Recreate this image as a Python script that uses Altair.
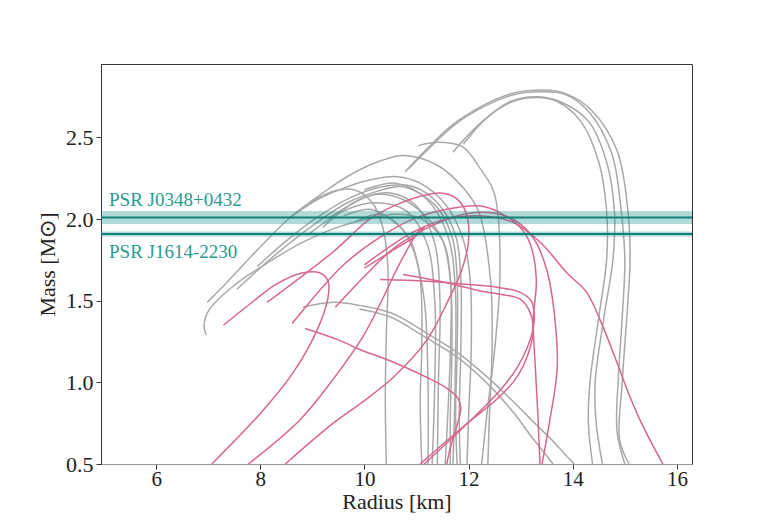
import altair as alt
import pandas as pd

# ---------------- data (Radius [km], Mass [Msun]) ----------------
gray_S1 = [(15.08,0.5),(14.9,0.65),(14.95,1.0),(15.06,1.5),(15.1,1.75),(15.06,2.05),(14.85,2.42),(14.35,2.67),(13.85,2.77),(13.43,2.79),(12.9,2.775),(12.3,2.70),(11.7,2.58),(11.2,2.43),(10.78,2.29)]
gray_S2 = [(15.0,0.5),(14.85,0.7),(14.87,1.0),(14.95,1.4),(15.0,1.75),(14.93,2.05),(14.75,2.4),(14.3,2.66),(13.85,2.765),(13.4,2.78),(12.9,2.765),(12.3,2.69),(11.7,2.57),(11.2,2.42),(10.85,2.31)]
gray_S3 = [(14.38,0.5),(14.3,0.75),(14.33,1.0),(14.5,1.4),(14.65,1.75),(14.65,2.05),(14.5,2.35),(14.15,2.6),(13.7,2.72),(13.3,2.745),(12.85,2.72),(12.35,2.62),(11.9,2.46)]
gray_S4 = [(14.57,0.5),(14.45,0.75),(14.43,1.0),(14.6,1.4),(14.77,1.75),(14.8,2.05),(14.65,2.35),(14.3,2.6),(13.75,2.72),(13.3,2.75),(12.8,2.72),(12.2,2.58),(11.7,2.41)]
gray_Gm = [(12.25,0.5),(12.35,0.8),(12.5,1.2),(12.6,1.63),(12.56,2.04),(12.47,2.18),(12.2,2.32),(11.9,2.44),(11.45,2.47),(11.03,2.45)]
gray_C1 = [(6.98,1.49),(7.23,1.57),(7.94,1.81),(8.57,2.01),(9.2,2.16),(9.72,2.27),(10.25,2.35),(10.75,2.39),(11.4,2.33),(11.9,2.19),(12.2,2.04),(12.42,1.63),(12.45,1.2),(12.4,0.8),(12.37,0.5)]
gray_C2 = [(6.96,1.29),(6.92,1.34),(6.99,1.43),(7.48,1.59),(8.13,1.73),(8.76,1.85),(9.4,1.94),(10.05,2.0),(10.6,2.03),(11.1,2.0),(11.5,1.87),(11.65,1.63),(11.65,1.2),(11.6,0.8),(11.55,0.5)]
gray_C3 = [(7.94,1.71),(8.51,1.87),(9.09,2.01),(9.72,2.13),(10.36,2.2),(10.93,2.2),(11.4,2.1),(11.75,1.9),(11.85,1.63),(11.85,1.2),(11.82,0.8),(11.84,0.5)]
gray_C4 = [(8.57,2.01),(9.1,2.12),(9.6,2.19),(10.1,2.24),(10.63,2.26),(11.07,2.22),(11.58,2.08),(11.9,1.87),(12.03,1.63),(12.05,1.2),(12.0,0.8),(11.97,0.5)]
gray_C5 = [(8.96,2.1),(9.4,2.17),(9.8,2.18),(10.15,2.1),(10.35,1.95),(10.45,1.7),(10.42,1.3),(10.4,0.9),(10.42,0.5)]
gray_C6 = [(9.34,2.01),(9.8,2.1),(10.2,2.15),(10.74,2.12),(11.2,2.01),(11.5,1.87),(11.65,1.63),(11.68,1.2),(11.65,0.8),(11.65,0.5)]
gray_C7 = [(9.6,2.02),(10.1,2.06),(10.5,2.0),(10.88,1.87),(11.07,1.63),(11.1,1.2),(11.07,0.9),(11.1,0.5)]
gray_C8 = [(7.55,1.57),(8.32,1.79),(9.09,1.98),(9.67,2.1),(10.24,2.17),(10.7,2.2),(11.1,2.15),(11.45,2.05),(11.7,1.87),(11.78,1.63),(11.78,1.2),(11.75,0.8),(11.78,0.5)]
gray_C9 = [(9.8,1.98),(10.3,2.03),(10.7,1.95),(10.95,1.8),(11.15,1.5),(11.22,1.0),(11.22,0.5)]
gray_C10 = [(8.9,1.9),(9.6,2.05),(10.2,2.1),(10.8,2.05),(11.2,1.85),(11.35,1.5),(11.35,1.0),(11.3,0.5)]
gray_C11 = [(9.2,1.95),(9.9,2.12),(10.5,2.16),(11.0,2.08),(11.35,1.85),(11.45,1.5),(11.42,1.0),(11.4,0.5)]
gray_C12 = [(10.0,2.18),(10.6,2.22),(11.2,2.12),(11.6,1.9),(11.74,1.6),(11.74,1.0),(11.7,0.5)]
gray_D1 = [(8.82,1.46),(9.4,1.49),(9.92,1.47),(10.55,1.42),(11.2,1.3),(11.84,1.17),(12.47,1.0),(12.99,0.84),(13.3,0.74),(13.62,0.64),(13.85,0.56),(14.03,0.5)]
gray_D2 = [(9.9,1.45),(10.5,1.4),(11.15,1.28),(11.8,1.15),(12.4,0.98),(12.9,0.8),(13.2,0.67),(13.45,0.57),(13.62,0.5)]

pink_K1 = [(7.07,0.5),(8.0,0.81),(8.63,1.06),(9.09,1.32),(9.3,1.52),(9.3,1.62),(9.15,1.67),(8.8,1.67),(8.3,1.6),(7.8,1.48),(7.29,1.35)]
pink_K2 = [(7.77,0.5),(8.76,0.77),(9.4,1.02),(9.97,1.28),(10.36,1.52),(10.6,1.68),(10.85,1.83),(11.05,1.93),(11.15,1.95),(11.0,1.9),(10.5,1.8),(10.0,1.7)]
pink_K3 = [(8.48,0.5),(9.4,0.75),(9.92,0.87),(10.55,1.03),(11.2,1.26),(11.59,1.49),(11.87,1.69),(12.0,1.87),(11.95,2.04),(11.75,2.13),(11.45,2.16),(11.07,2.14),(10.63,2.09),(10.1,2.0),(9.4,1.8),(8.13,1.49)]
pink_K4 = [(8.86,1.33),(9.5,1.26),(9.92,1.2),(10.43,1.14),(11.2,1.03),(11.6,0.96),(11.8,0.9),(11.85,0.84),(11.78,0.74),(11.65,0.6),(11.58,0.5)]
pink_H1 = [(11.07,0.5),(11.9,0.73),(12.55,0.9),(12.9,1.02),(13.15,1.18),(13.24,1.34),(13.18,1.43),(12.99,1.51),(12.6,1.54),(12.22,1.56),(11.58,1.61),(10.74,1.66)]
pink_H2 = [(11.15,0.5),(11.95,0.74),(12.6,0.95),(12.95,1.1),(13.2,1.28),(13.26,1.4),(13.2,1.5),(13.0,1.55),(12.6,1.58),(12.0,1.6),(11.2,1.62),(10.3,1.63)]
pink_K7 = [(13.37,0.5),(13.33,0.8),(13.28,1.1),(13.24,1.38),(13.3,1.63),(13.18,1.85),(12.99,1.95),(12.6,2.04),(12.22,2.08),(11.58,2.06),(10.93,2.0),(10.3,1.89),(9.6,1.72),(8.61,1.36)]
pink_K8 = [(13.41,0.5),(13.56,0.77),(13.7,1.08),(13.66,1.38),(13.5,1.69),(13.25,1.88),(12.9,1.99),(12.4,2.04),(11.9,2.03),(11.3,1.96),(10.6,1.83),(10.0,1.65),(9.44,1.46)]
pink_K5 = [(15.73,0.5),(15.35,0.73),(15.1,0.91),(14.85,1.12),(14.58,1.34),(14.27,1.55),(13.89,1.67),(13.37,1.86),(12.85,1.98),(12.22,2.02),(11.58,2.0),(10.93,1.92),(10.3,1.79),(10.0,1.72)]

psr_names = ["PSR J0348+0432", "PSR J1614-2230"]
psr_mass = [2.01, 1.908]
psr_err = [0.04, 0.016]
psr_label_mass = [2.12, 1.80]

x_ticks = [6, 8, 10, 12, 14, 16]
y_ticks = [0.5, 1.0, 1.5, 2.0, 2.5]

# ---------------- build tables ----------------
gray_curves = {
    "S1": gray_S1, "S2": gray_S2, "S3": gray_S3, "S4": gray_S4, "Gm": gray_Gm,
    "C1": gray_C1, "C2": gray_C2, "C3": gray_C3, "C4": gray_C4, "C5": gray_C5,
    "C6": gray_C6, "C7": gray_C7, "C8": gray_C8, "C9": gray_C9, "C10": gray_C10,
    "C11": gray_C11, "C12": gray_C12, "D1": gray_D1, "D2": gray_D2,
}
pink_curves = {
    "K1": pink_K1, "K2": pink_K2, "K3": pink_K3, "K4": pink_K4, "H1": pink_H1,
    "H2": pink_H2, "K7": pink_K7, "K8": pink_K8, "K5": pink_K5,
}

def to_df(curves):
    rows = []
    for name, pts in curves.items():
        for i, (r, m) in enumerate(pts):
            rows.append({"curve": name, "order": i, "R": r, "M": m})
    return pd.DataFrame(rows)

gray_df = to_df(gray_curves)
pink_df = to_df(pink_curves)
psr_df = pd.DataFrame({
    "name": psr_names,
    "m": psr_mass,
    "lo": [m - e for m, e in zip(psr_mass, psr_err)],
    "hi": [m + e for m, e in zip(psr_mass, psr_err)],
    "lab": psr_label_mass,
})

W, H = 591, 400
FONT = "Liberation Serif"
xs = alt.Scale(domain=[4.94, 16.29], nice=False, zero=False)
ys = alt.Scale(domain=[0.5, 2.95], nice=False, zero=False)

x_enc = alt.X("R:Q", scale=xs, title="Radius [km]",
              axis=alt.Axis(values=x_ticks, format="d", grid=False, domainColor="#999999",
                            tickColor="#333333", tickSize=5, labelPadding=-1, labelFontSize=21,
                            titleY=37, titleBaseline="middle"))
y_enc = alt.Y("M:Q", scale=ys, title="Mass [M\u2299]",
              axis=alt.Axis(values=y_ticks, format=".1f", grid=False, domainColor="#333333",
                            tickColor="#333333", tickSize=5, labelPadding=3, titlePadding=6))

gray = alt.Chart(gray_df).mark_line(color="#a9a9a9", strokeWidth=1.5, interpolate="catmull-rom", clip=True).encode(
    x=x_enc, y=y_enc, detail="curve:N", order="order:Q")
pink = alt.Chart(pink_df).mark_line(color="#d8668e", strokeWidth=1.5, interpolate="catmull-rom", clip=True).encode(
    x="R:Q", y="M:Q", detail="curve:N", order="order:Q")

band = alt.Chart(psr_df).mark_rect(color="#15918a", opacity=0.33).encode(
    x=alt.value(0), x2=alt.value(W), y="lo:Q", y2="hi:Q")
rule = alt.Chart(psr_df).mark_rule(color="#0f7f78", strokeWidth=2).encode(y="m:Q")
labels = alt.Chart(psr_df).mark_text(align="left", baseline="middle", font=FONT, fontSize=19,
                                     color="#2a9a92").encode(
    x=alt.value(8), y="lab:Q", text="name:N")

chart = alt.layer(gray, pink, band, rule, labels).properties(
    width=W, height=H,
    autosize=alt.AutoSizeParams(type="none"),
    padding={"left": 93, "top": 56, "right": 40, "bottom": 49},
).configure_view(stroke="#333333", strokeWidth=1).configure_axis(
    labelFont=FONT, titleFont=FONT, labelFontSize=22, titleFontSize=22,
    labelColor="#222222", titleColor="#222222", titleFontWeight="normal",
)

chart.save("out.html", embed_options={"renderer": "svg", "actions": False})
